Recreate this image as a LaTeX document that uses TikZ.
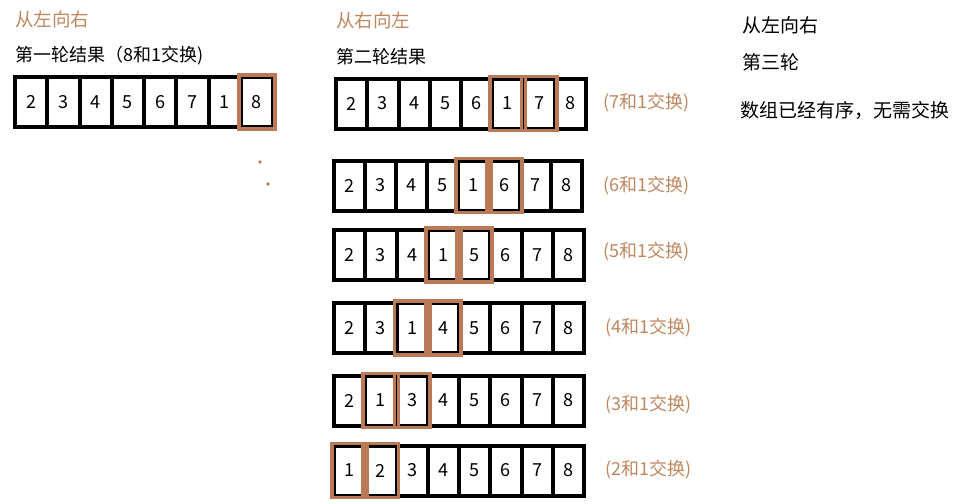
\documentclass[tikz,border=0pt]{standalone}
\usepackage{fontspec}
\setmainfont{Noto Sans CJK SC}
\definecolor{hlbrown}{RGB}{185,122,87}
\definecolor{txtbrown}{RGB}{192,135,95}
\tikzset{
  cell/.style={draw=black, line width=4pt, fill=white, minimum height=50pt, inner sep=0pt, font=\fontsize{18}{20}\selectfont},
  hl/.style={draw=hlbrown, line width=3.8pt},
  browntxt/.style={text=txtbrown, anchor=west, inner sep=0pt, font=\fontsize{18}{20}\selectfont},
  titletxt/.style={text=txtbrown, anchor=west, inner sep=0pt, font=\fontsize{18.5}{20}\selectfont},
  blacktxt/.style={text=black, anchor=west, inner sep=0pt, font=\fontsize{18}{20}\selectfont},
  righttxt/.style={text=black, anchor=west, inner sep=0pt, font=\fontsize{19}{20}\selectfont},
}
\begin{document}
\begin{tikzpicture}[x=1pt,y=-1pt]
\useasboundingbox (0,0) rectangle (965,503);
% row 1
\foreach \v [count=\i] in {2,3,4,5,6,7,1,8}
  \node[cell, minimum width=32.25pt] (a\i) at ({15+32.25*(\i-0.5)},102) {\v};
\draw[hl] (a8.north west) rectangle (a8.south east);
% row 2
\foreach \v [count=\i] in {2,3,4,5,6,1,7,8}
  \node[cell, minimum width=31.25pt] (b\i) at ({336+31.25*(\i-0.5)},103.5) {\v};
\draw[hl] (b6.north west) rectangle (b6.south east);
\draw[hl] (b7.north west) rectangle (b7.south east);
% row 3
\foreach \v [count=\i] in {2,3,4,5,1,6,7,8}
  \node[cell, minimum width=31pt] (c\i) at ({334+31*(\i-0.5)},185.5) {\v};
\draw[hl] (c5.north west) rectangle (c5.south east);
\draw[hl] (c6.north west) rectangle (c6.south east);
% row 4
\foreach \v [count=\i] in {2,3,4,1,5,6,7,8}
  \node[cell, minimum width=31.25pt] (d\i) at ({334+31.25*(\i-0.5)},255) {\v};
\draw[hl] (d4.north west) rectangle (d4.south east);
\draw[hl] (d5.north west) rectangle (d5.south east);
% row 5
\foreach \v [count=\i] in {2,3,1,4,5,6,7,8}
  \node[cell, minimum width=31.25pt] (e\i) at ({334+31.25*(\i-0.5)},328) {\v};
\draw[hl] (e3.north west) rectangle (e3.south east);
\draw[hl] (e4.north west) rectangle (e4.south east);
% row 6
\foreach \v [count=\i] in {2,1,3,4,5,6,7,8}
  \node[cell, minimum width=31.25pt] (f\i) at ({334+31.25*(\i-0.5)},400.5) {\v};
\draw[hl] (f2.north west) rectangle (f2.south east);
\draw[hl] (f3.north west) rectangle (f3.south east);
% row 7
\foreach \v [count=\i] in {1,2,3,4,5,6,7,8}
  \node[cell, minimum width=31.25pt] (g\i) at ({334+31.25*(\i-0.5)},470.5) {\v};
\draw[hl] (g1.north west) rectangle (g1.south east);
\draw[hl] (g2.north west) rectangle (g2.south east);
% labels
\node[titletxt] (t1) at (15,19) {从左向右};
\node[blacktxt] (t2) at (15,56) {第一轮结果（8和1交换)};
\node[titletxt] (t3) at (336,20) {从右向左};
\node[blacktxt] (t4) at (336,57) {第二轮结果};
\node[righttxt] (t5) at (742,25) {从左向右};
\node[righttxt] (t6) at (742,62) {第三轮};
\node[righttxt] (t7) at (740,110) {数组已经有序，无需交换};
\node[browntxt] (l2) at (603,103) {(7和1交换)};
\node[browntxt] (l3) at (603,186) {(6和1交换)};
\node[browntxt] (l4) at (603,252) {(5和1交换)};
\node[browntxt] (l5) at (605,328) {(4和1交换)};
\node[browntxt] (l6) at (605,405) {(3和1交换)};
\node[browntxt] (l7) at (605,470) {(2和1交换)};
% dots
\fill[hlbrown] (260,162) circle (1.8pt);
\fill[hlbrown] (268,184) circle (1.8pt);
\end{tikzpicture}
\end{document}
